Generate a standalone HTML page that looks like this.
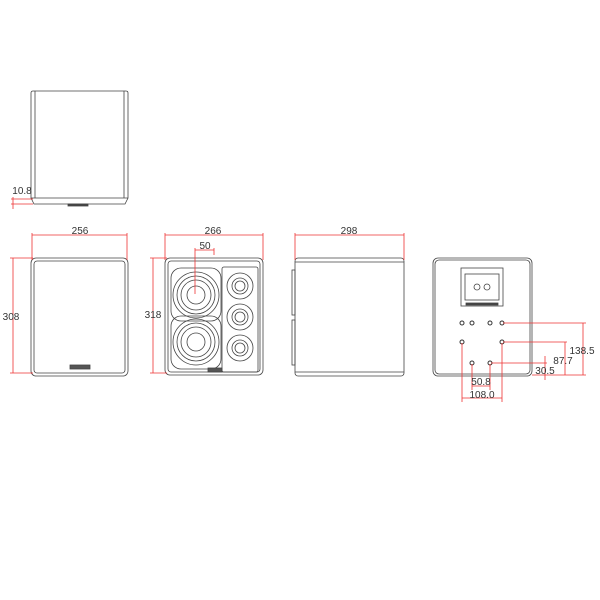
<!DOCTYPE html>
<html><head><style>body{margin:0;background:#fff}svg{display:block}</style></head><body>
<svg width="600" height="600" viewBox="0 0 600 600" xmlns="http://www.w3.org/2000/svg" font-family="Liberation Sans, sans-serif">
<g fill="none" stroke="#444" stroke-width="0.8">
<!-- top view -->
<path d="M31,93 Q31,91 33,91 L126,91 Q128,91 128,93 L128,198 L31,198 Z"/>
<path d="M35,91 L35,198 M124,91 L124,198"/>
<path d="M31,198 L34,204 L125,204 L128,198"/>
<rect x="68" y="204" width="20" height="2" fill="#444"/>
<!-- plain front -->
<rect x="31" y="258" width="97" height="118" rx="5"/>
<rect x="34" y="261" width="91" height="112" rx="3"/>
<rect x="70" y="365" width="20" height="4" fill="#555"/>
<!-- speaker front -->
<rect x="165" y="258" width="98" height="117" rx="5"/>
<rect x="168" y="261" width="92" height="111" rx="3"/>
<g>
<rect x="171" y="268" width="50" height="53" rx="10"/>
<circle cx="196" cy="295" r="23"/><circle cx="196" cy="295" r="19"/><circle cx="196" cy="295" r="15"/><circle cx="196" cy="295" r="9"/>
<rect x="171" y="316" width="50" height="53" rx="10"/>
<circle cx="196" cy="342" r="23"/><circle cx="196" cy="342" r="19"/><circle cx="196" cy="342" r="15"/><circle cx="196" cy="342" r="9"/>
<rect x="222" y="267" width="36" height="105" rx="2"/>
<circle cx="240" cy="286" r="13"/><circle cx="240" cy="286" r="8"/><circle cx="240" cy="286" r="5"/>
<circle cx="240" cy="317" r="13"/><circle cx="240" cy="317" r="8"/><circle cx="240" cy="317" r="5"/>
<circle cx="240" cy="348" r="13"/><circle cx="240" cy="348" r="8"/><circle cx="240" cy="348" r="5"/>
</g>
<rect x="208" y="368" width="14" height="4" fill="#555"/>
<!-- side -->
<rect x="295" y="258" width="109" height="118" rx="3"/>
<path d="M295,262 L404,262 M295,372 L404,372"/>
<rect x="292" y="270" width="3" height="45"/><rect x="292" y="320" width="3" height="45"/>
<!-- back -->
<rect x="433" y="258" width="99" height="118" rx="5"/>
<rect x="435" y="260" width="95" height="114" rx="4"/>
<rect x="461" y="268" width="42" height="38"/>
<rect x="465" y="274" width="34" height="26"/>
<circle cx="477" cy="287" r="3"/><circle cx="487" cy="287" r="3"/>
<rect x="466" y="303" width="32" height="2" fill="#444"/>
</g>
<g fill="#fff" stroke="#333" stroke-width="1">
<circle cx="462" cy="323" r="2"/><circle cx="472" cy="323" r="2"/><circle cx="490" cy="323" r="2"/><circle cx="502" cy="323" r="2"/>
<circle cx="462" cy="342" r="2"/><circle cx="502" cy="342" r="2"/>
<circle cx="472" cy="363" r="2"/><circle cx="490" cy="363" r="2"/>
</g>
<g stroke="#e33" stroke-width="0.8" fill="none">
<path d="M13,197 L13,209 M11,204 L33,204 M11,199 L33,199"/>
<path d="M32,233 L32,260 M127,233 L127,260 M32,235 L127,235"/>
<path d="M10,258 L33,258 M10,373 L33,373 M13,258 L13,373"/>
<path d="M165,233 L165,260 M263,233 L263,260 M165,235 L263,235"/>
<path d="M195,248 L195,294 M214,248 L214,255 M195,250 L214,250"/>
<path d="M150,258 L167,258 M150,373 L167,373 M153,258 L153,373"/>
<path d="M295,233 L295,260 M404,233 L404,260 M295,235 L404,235"/>
<path d="M503,323 L586,323 M532,375 L586,375 M583,323 L583,375"/>
<path d="M503,342 L567,342 M565,342 L565,375"/>
<path d="M491,363 L547,363 M545,356 L545,380"/>
<path d="M472,364 L472,390 M490,364 L490,390 M472,386 L490,386"/>
<path d="M462,343 L462,402 M502,343 L502,402 M462,398 L502,398"/>
</g>
<g font-size="10" fill="#333" text-anchor="middle">
<text x="22" y="194">10.8</text>
<text x="80" y="234">256</text>
<text x="11" y="320">308</text>
<text x="213" y="234">266</text>
<text x="205" y="249">50</text>
<text x="153" y="318">318</text>
<text x="349" y="234">298</text>
<text x="582" y="354">138.5</text>
<text x="563" y="364">87.7</text>
<text x="545" y="374">30.5</text>
<text x="481" y="385">50.8</text>
<text x="482" y="398">108.0</text>
</g>
</svg>
</body></html>
